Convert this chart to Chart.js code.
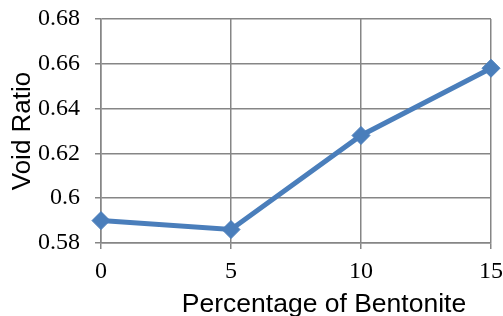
<!DOCTYPE html>
<html>
<head>
<meta charset="utf-8">
<script src="https://cdn.jsdelivr.net/npm/chart.js@4/dist/chart.umd.min.js"></script>
<style>
html,body{margin:0;padding:0;background:#fff;}
canvas{display:block;}
</style>
</head>
<body>
<canvas id="c" width="503" height="316"></canvas>
<script>
const bentonitePct = [0, 5, 10, 15];
const voidRatio = [0.590, 0.586, 0.628, 0.658];
const xTitle = 'Percentage of Bentonite';
const yTitle = 'Void Ratio';

const gridColor = '#868686';
const lineColor = '#4A7EBB';

function noPad(s) { s.paddingTop = 0; s.paddingBottom = 0; s.paddingLeft = 0; s.paddingRight = 0; }

// x-axis title is offset to the right of the plot centre in the reference
const xTitlePlugin = {
  id: 'xTitlePlugin',
  afterDraw(chart) {
    const ctx = chart.ctx;
    const area = chart.chartArea;
    ctx.save();
    ctx.font = '26.5px "Liberation Sans"';
    ctx.fillStyle = '#000';
    ctx.textAlign = 'center';
    ctx.textBaseline = 'alphabetic';
    ctx.fillText(xTitle, (area.left + area.right) / 2 + 28, chart.height - 4);
    ctx.restore();
  }
};

new Chart(document.getElementById('c'), {
  type: 'line',
  data: {
    datasets: [{
      data: bentonitePct.map((x, i) => ({x: x, y: voidRatio[i]})),
      borderColor: lineColor,
      backgroundColor: lineColor,
      borderWidth: 5,
      pointStyle: 'rectRot',
      pointRadius: 9,
      pointHoverRadius: 9,
      pointBorderWidth: 1,
      pointBackgroundColor: lineColor,
      pointBorderColor: lineColor,
      tension: 0,
      fill: false,
      clip: false
    }]
  },
  options: {
    responsive: false,
    animation: false,
    devicePixelRatio: 1,
    layout: {padding: {top: 19, right: 12, left: 0, bottom: 0}},
    plugins: {legend: {display: false}, tooltip: {enabled: false}},
    scales: {
      x: {
        type: 'linear',
        min: 0, max: 15,
        afterFit: s => { s.height = 73; noPad(s); },
        ticks: {stepSize: 5, color: '#000', padding: 8,
          font: {family: 'Liberation Serif', size: 24}},
        grid: {color: gridColor, lineWidth: 1.5, tickLength: 6},
        border: {color: gridColor, width: 1.5},
        title: {display: false}
      },
      y: {
        min: 0.58, max: 0.68,
        afterFit: s => { s.width = 101; noPad(s); },
        ticks: {stepSize: 0.02, color: '#000', padding: 15,
          font: {family: 'Liberation Serif', size: 24},
          callback: v => parseFloat(v.toFixed(2)).toString()},
        grid: {color: gridColor, lineWidth: 1.5, tickLength: 6},
        border: {color: gridColor, width: 1.5},
        title: {display: true, text: yTitle, color: '#000', padding: {top: 7, bottom: 0},
          font: {family: 'Liberation Sans', size: 26}}
      }
    }
  },
  plugins: [xTitlePlugin]
});
</script>
</body>
</html>
